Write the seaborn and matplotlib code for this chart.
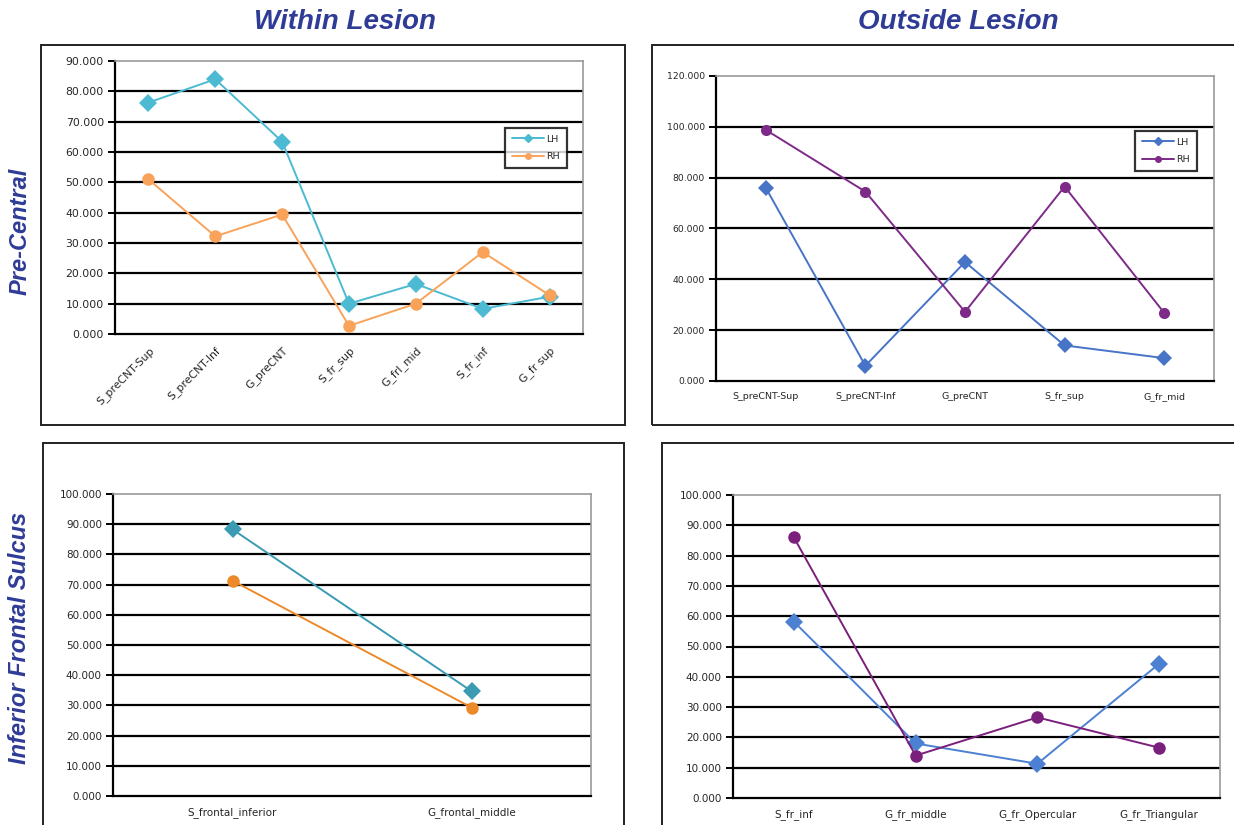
import numpy as np
import pandas as pd
import matplotlib
matplotlib.use("Agg")
import matplotlib.pyplot as plt
from matplotlib.patches import Rectangle
from matplotlib.ticker import FormatStrFormatter, FixedLocator
import seaborn as sns

# ---- data ----
within_pc_regions = ['S_preCNT-Sup', 'S_preCNT-Inf', 'G_preCNT', 'S_fr_sup', 'G_frl_mid', 'S_fr_inf', 'G_fr sup']
within_pc_lh = [76.3, 84.0, 63.4, 10.0, 16.5, 8.3, 12.3]
within_pc_rh = [51.0, 32.2, 39.4, 2.7, 10.0, 27.0, 12.8]

outside_pc_regions = ['S_preCNT-Sup', 'S_preCNT-Inf', 'G_preCNT', 'S_fr_sup', 'G_fr_mid']
outside_pc_lh = [76.0, 6.0, 46.8, 14.0, 9.0]
outside_pc_rh = [98.8, 74.5, 27.2, 76.5, 26.8]

within_ifs_regions = ['S_frontal_inferior', 'G_frontal_middle']
within_ifs_lh = [88.3, 34.7]
within_ifs_rh = [71.3, 29.3]

outside_ifs_regions = ['S_fr_inf', 'G_fr_middle', 'G_fr_Opercular', 'G_fr_Triangular']
outside_ifs_lh = [58.2, 18.0, 11.3, 44.3]
outside_ifs_rh = [86.0, 14.0, 26.6, 16.6]

title_color = '#2F3C96'

sns.set_style('white')
plt.rcParams['font.family'] = ['DejaVu Sans']

W, H = 1234, 825
fig = plt.figure(figsize=(W / 100, H / 100), dpi=100)


def px_axes(x0, y0, x1, y1):
    return fig.add_axes([x0 / W, 1 - y1 / H, (x1 - x0) / W, (y1 - y0) / H])


def px_box(x0, y0, x1, y1):
    fig.patches.append(Rectangle((x0 / W, 1 - y1 / H), (x1 - x0) / W, (y1 - y0) / H,
                                 transform=fig.transFigure, fill=False,
                                 edgecolor='#222222', lw=1.4, zorder=0))


def draw_panel(ax, regions, lh, rh, colors, ymax, ystep, ms, tick_fs, xfs,
               rotate=False, legend_box=None):
    df = pd.DataFrame({
        'pos': list(range(len(regions))) * 2,
        'value': lh + rh,
        'hemi': ['LH'] * len(lh) + ['RH'] * len(rh),
    })
    sns.lineplot(data=df, x='pos', y='value', hue='hemi', style='hemi',
                 markers={'LH': 'D', 'RH': 'o'}, dashes=False,
                 palette={'LH': colors[0], 'RH': colors[1]},
                 markersize=ms, markeredgewidth=0, linewidth=1.4,
                 ax=ax, legend=False, zorder=5)
    n = len(regions)
    ax.set_xlim(-0.5, n - 0.5)
    ax.set_ylim(0, ymax)
    yt = np.arange(0, ymax + ystep / 2, ystep)
    ax.set_yticks(yt)
    ax.yaxis.set_major_formatter(FormatStrFormatter('%.3f'))
    for v in yt[1:-1]:
        ax.axhline(v, color='black', lw=1.6, zorder=1)
    ax.set_xticks(range(n))
    ax.xaxis.set_minor_locator(FixedLocator(np.arange(-0.5, n, 1.0)))
    ax.tick_params(axis='x', which='major', length=0, labelsize=xfs, pad=8)
    ax.tick_params(axis='x', which='minor', length=5, width=1.4, color='black', direction='out')
    ax.tick_params(axis='y', length=5, width=1.4, color='black', direction='out',
                   labelsize=tick_fs, pad=3, left=True)
    if rotate:
        ax.set_xticklabels(regions, rotation=45, ha='right', rotation_mode='anchor')
    else:
        ax.set_xticklabels(regions)
    ax.set_xlabel('')
    ax.set_ylabel('')
    for s in ['left', 'bottom']:
        ax.spines[s].set_color('black')
        ax.spines[s].set_linewidth(1.6)
    for s in ['top', 'right']:
        ax.spines[s].set_color('#9a9a9a')
        ax.spines[s].set_linewidth(1.2)
    if legend_box is not None:
        handles = [plt.Line2D([0], [0], color=colors[0], marker='D', markersize=4, lw=1.4),
                   plt.Line2D([0], [0], color=colors[1], marker='o', markersize=4, lw=1.4)]
        leg = ax.legend(handles, ['LH', 'RH'], loc='upper left',
                        bbox_to_anchor=legend_box, bbox_transform=fig.transFigure,
                        fontsize=6.8, frameon=True, fancybox=False, handlelength=3.4,
                        borderpad=0.7, labelspacing=0.9, handletextpad=0.3,
                        borderaxespad=0)
        leg.get_frame().set_edgecolor('black')
        leg.get_frame().set_linewidth(1.6)


# panel frames
px_box(41, 45, 625, 425)
px_box(652, 45, 1250, 425)
px_box(43, 443, 624, 840)
px_box(662, 443, 1250, 840)

ax1 = px_axes(115, 61, 583, 334)
draw_panel(ax1, within_pc_regions, within_pc_lh, within_pc_rh, ('#4BBAD2', '#F9A35A'),
           90, 10, 9, 7.8, 7.8, rotate=True, legend_box=(505 / W, 1 - 128 / H))

ax2 = px_axes(716, 76, 1214, 381)
draw_panel(ax2, outside_pc_regions, outside_pc_lh, outside_pc_rh, ('#4774C6', '#7D2A88'),
           120, 20, 8, 6.7, 6.8, legend_box=(1135 / W, 1 - 131 / H))

ax3 = px_axes(113, 494, 591, 796)
draw_panel(ax3, within_ifs_regions, within_ifs_lh, within_ifs_rh, ('#3A9BB2', '#EC8A2A'),
           100, 10, 9, 7.5, 7.5)

ax4 = px_axes(733, 495, 1220, 798)
draw_panel(ax4, outside_ifs_regions, outside_ifs_lh, outside_ifs_rh, ('#4C80D2', '#7B1F7C'),
           100, 10, 9, 7.5, 7.5)

# titles
tkw = dict(color=title_color, fontweight='bold', fontstyle='italic',
           family=['Liberation Sans', 'DejaVu Sans'], ha='center', va='center')
fig.text(345 / W, 1 - 22 / H, 'Within Lesion', fontsize=20, **tkw)
fig.text(958 / W, 1 - 22 / H, 'Outside Lesion', fontsize=20, **tkw)
fig.text(20 / W, 1 - 231 / H, 'Pre-Central', rotation=90, fontsize=17, **tkw)
fig.text(20 / W, 1 - 638 / H, 'Inferior Frontal Sulcus', rotation=90, fontsize=17, **tkw)

fig.savefig('out.png', dpi=100)
